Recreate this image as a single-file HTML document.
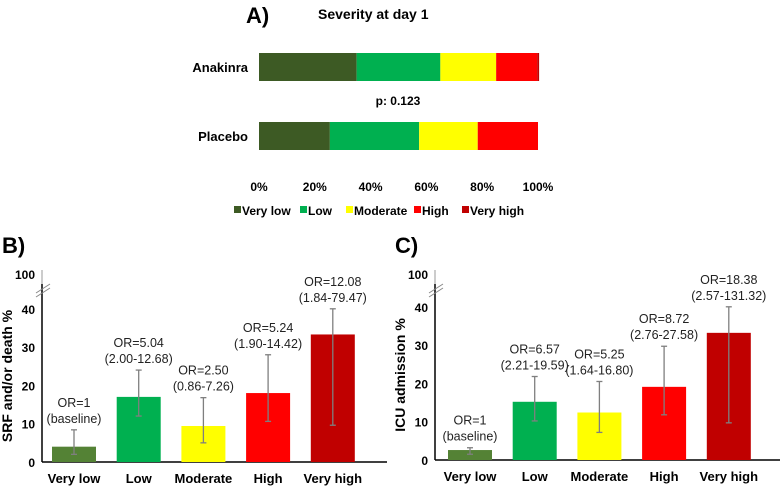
<!DOCTYPE html>
<html><head><meta charset="utf-8"><style>
body{margin:0;background:#fff}
svg{display:block;font-family:"Liberation Sans",Arial,sans-serif}
</style></head><body>
<svg width="784" height="486" viewBox="0 0 784 486" id="fig">
<g id="pa">
<text x="246" y="23" font-size="22" font-weight="bold">A)</text>
<text x="318" y="19" font-size="14" font-weight="bold">Severity at day 1</text>
<text x="248" y="72" font-size="13" font-weight="bold" text-anchor="end">Anakinra</text>
<text x="248" y="141" font-size="13" font-weight="bold" text-anchor="end">Placebo</text>
<text x="398" y="105" font-size="12" font-weight="bold" text-anchor="middle">p: 0.123</text>
</g>
<g id="pb"></g>
<g id="pc"></g>
</svg>
<script>
const NS="http://www.w3.org/2000/svg";
const colors=["#3d5a24","#00b050","#ffff00","#ff0000","#c00000"];
const barColors=["#548235","#00b050","#ffff00","#ff0000","#c00000"];
const severityLabels=["Very low","Low","Moderate","High","Very high"];
const anakinraPct=[35,30,20,14.7,0.7];
const placeboPct=[25.4,32,21,21.6,0];
const pctTicks=[0,20,40,60,80,100];
const bValues=[4,17,9.4,18,33.3];
const bLow=[2,12,5,10.6,9.6];
const bHigh=[8.4,24,16.8,28,40];
const bOR=["OR=1","OR=5.04","OR=2.50","OR=5.24","OR=12.08"];
const bCI=["(baseline)","(2.00-12.68)","(0.86-7.26)","(1.90-14.42)","(1.84-79.47)"];
const cValues=[2.6,15.2,12.4,19.1,33.2];
const cLow=[1.5,10.2,7.2,11.8,9.7];
const cHigh=[3.2,21.8,20.5,29.7,40];
const cOR=["OR=1","OR=6.57","OR=5.25","OR=8.72","OR=18.38"];
const cCI=["(baseline)","(2.21-19.59)","(1.64-16.80)","(2.76-27.58)","(2.57-131.32)"];
const yTicks=[0,10,20,30,40];

function mk(tag,attrs,parent,txt){const e=document.createElementNS(NS,tag);for(const k in attrs)e.setAttribute(k,attrs[k]);if(txt!==undefined)e.textContent=txt;parent.appendChild(e);return e;}

// Panel A
const pa=document.getElementById('pa');
const ax=p=>259+p/100*279;
[[anakinraPct,53,'anakinra'],[placeboPct,122,'placebo']].forEach(([arr,y,nm])=>{
  let acc=0;
  arr.forEach((v,i)=>{
    const r=mk('rect',{x:ax(acc),y:y,width:ax(acc+v)-ax(acc),height:28,fill:colors[i]},pa);
    
    
    acc+=v;
  });
});
pctTicks.forEach(t=>{
  const e=mk('text',{x:ax(t),y:191,'font-size':12,'font-weight':'bold','text-anchor':'middle'},pa,t+'%');
  
  
});
const legX=[234,300,346,414,462];
severityLabels.forEach((l,i)=>{
  const g=mk('g',{},pa);
  
  
  mk('rect',{x:legX[i],y:206,width:7,height:7,fill:colors[i]},g);
  mk('text',{x:legX[i]+8,y:215,'font-size':12,'font-weight':'bold'},g,l);
});

function barPanel(gid,ox,base,label,ytitle,vals,lo,hi,or,ci,bx){
  const g=document.getElementById(gid);
  const y=v=>base-v*3.83;
  const lb=mk('text',{x:ox-40,y:253,'font-size':22,'font-weight':'bold'},g,label);
   
  mk('line',{x1:ox,y1:270,x2:ox,y2:284,stroke:'#999','stroke-width':1},g);
  const a=mk('line',{x1:ox,y1:284,x2:ox,y2:base,stroke:'#000','stroke-width':1.5},g);
   
  const xa=mk('line',{x1:ox,y1:base,x2:ox+345,y2:base,stroke:'#000','stroke-width':1.5},g);
   
  mk('line',{x1:ox-6,y1:293,x2:ox+8,y2:284,stroke:'#888','stroke-width':1},g);
  mk('line',{x1:ox-6,y1:297,x2:ox+8,y2:288,stroke:'#888','stroke-width':1},g);
  mk('text',{x:ox-7,y:279,'font-size':12,'font-weight':'bold','text-anchor':'end'},g,'100');
  yTicks.forEach(t=>{
    const e=mk('text',{x:ox-7,y:y(t)+5,'font-size':12,'font-weight':'bold','text-anchor':'end'},g,String(t));
     
  });
  const yt=mk('text',{transform:`translate(${ox-30},${(base+280)/2+5}) rotate(-90)`,'font-size':14,'font-weight':'bold','text-anchor':'middle'},g,ytitle);
   
  vals.forEach((v,i)=>{
    const x0=bx+i*64.7, cx=x0+22;
    const r=mk('rect',{x:x0,y:y(v),width:44,height:base-y(v),fill:barColors[i]},g);
    
    
    const eb=mk('g',{stroke:'#7f7f7f','stroke-width':1.3},g);
     
    mk('line',{x1:cx,y1:y(lo[i]),x2:cx,y2:y(hi[i])},eb);
    mk('line',{x1:cx-3,y1:y(lo[i]),x2:cx+3,y2:y(lo[i])},eb);
    mk('line',{x1:cx-3,y1:y(hi[i]),x2:cx+3,y2:y(hi[i])},eb);
    const t1=mk('text',{x:cx,y:y(hi[i])-23,'font-size':12.5,'text-anchor':'middle',fill:'#222'},g,or[i]);
     
    const t2=mk('text',{x:cx,y:y(hi[i])-7,'font-size':12.5,'text-anchor':'middle',fill:'#222'},g,ci[i]);
     
    const xl=mk('text',{x:cx,y:base+21,'font-size':13,'font-weight':'bold','text-anchor':'middle'},g,severityLabels[i]);
     
  });
}
barPanel('pb',42,462,'B)','SRF and/or death  %',bValues,bLow,bHigh,bOR,bCI,52);
barPanel('pc',435,460,'C)','ICU admission %',cValues,cLow,cHigh,cOR,cCI,448);
</script>
</body></html>
